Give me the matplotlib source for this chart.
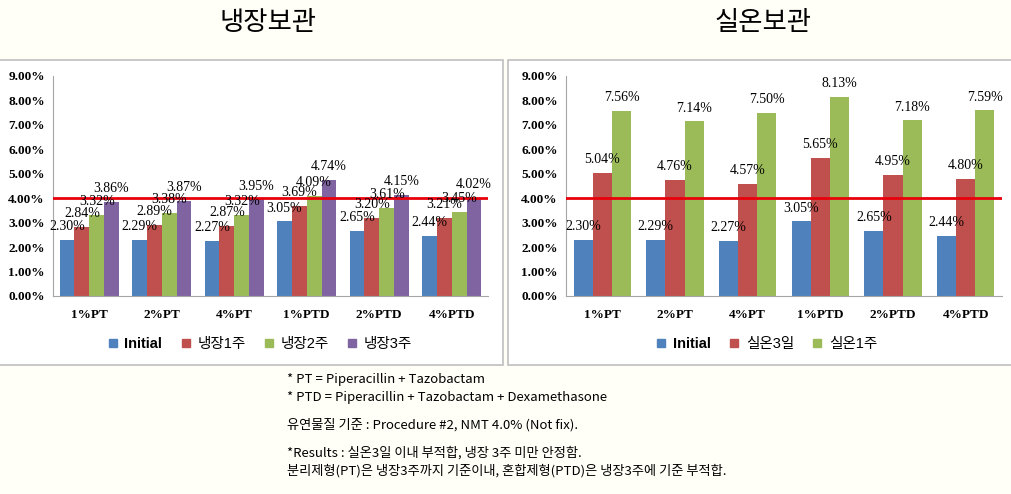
import matplotlib.pyplot as plt
import numpy as np
from matplotlib.patches import Rectangle
from matplotlib.lines import Line2D

plt.rcParams['font.family'] = ['Liberation Serif', 'Noto Sans CJK KR', 'DejaVu Sans']

categories = ['1%PT', '2%PT', '4%PT', '1%PTD', '2%PTD', '4%PTD']

# 냉장보관
cold_names = ['Initial', '냉장1주', '냉장2주', '냉장3주']
cold_initial = [2.30, 2.29, 2.27, 3.05, 2.65, 2.44]
cold_w1 = [2.84, 2.89, 2.87, 3.69, 3.20, 3.21]
cold_w2 = [3.32, 3.38, 3.32, 4.09, 3.61, 3.45]
cold_w3 = [3.86, 3.87, 3.95, 4.74, 4.15, 4.02]

# 실온보관
room_names = ['Initial', '실온3일', '실온1주']
room_initial = [2.30, 2.29, 2.27, 3.05, 2.65, 2.44]
room_d3 = [5.04, 4.76, 4.57, 5.65, 4.95, 4.80]
room_w1 = [7.56, 7.14, 7.50, 8.13, 7.18, 7.59]

limit = 4.0
colors = ['#4F81BD', '#C0504D', '#9BBB59', '#8064A2']

W, H = 1012, 494
fig = plt.figure(figsize=(W / 100, H / 100), dpi=100, facecolor='#FFFFF8')

# white chart panels
for x0, x1 in [(-2, 503), (508, 1014)]:
    fig.patches.append(Rectangle((x0 / W, 1 - 365 / H), (x1 - x0) / W, 305 / H,
                                 transform=fig.transFigure, facecolor='white',
                                 edgecolor='#BFBFBF', linewidth=1.2, zorder=-5))


def panel(rect, series, names, group_w, legend_x):
    ax = fig.add_axes(rect)
    ax.set_facecolor('white')
    n = len(series)
    x = np.arange(len(categories))
    bw = group_w / n
    for i, vals in enumerate(series):
        pos = x - group_w / 2 + bw * (i + 0.5)
        bars = ax.bar(pos, vals, bw, color=colors[i], zorder=2)
        labels = [f'{v:.2f}%' for v in vals]
        ax.bar_label(bars, labels=labels, padding=5, fontsize=10, zorder=5)
    ax.axhline(limit, color='#E8000B', linewidth=2, zorder=4)
    ax.set_ylim(0, 9)
    ax.set_xlim(-0.5, len(categories) - 0.5)
    ax.set_yticks(np.arange(0, 9.5, 1))
    ax.set_yticklabels([f'{v:.2f}%' for v in np.arange(0, 9.5, 1)],
                       fontsize=9.5, fontweight='bold')
    ax.set_xticks(x)
    ax.set_xticklabels(categories, fontsize=9.5, fontweight='bold')
    ax.tick_params(axis='x', length=0, pad=9)
    ax.tick_params(axis='y', length=0, pad=6)
    for s in ['top', 'right']:
        ax.spines[s].set_visible(False)
    for s in ['left', 'bottom']:
        ax.spines[s].set_color('#A6A6A6')
    handles = [Line2D([], [], marker='s', linestyle='', color=c, markersize=6)
               for c in colors[:n]]
    leg = fig.legend(handles, names, loc='center', ncol=n,
                     bbox_to_anchor=(legend_x / W, 1 - 344 / H), frameon=False,
                     handletextpad=-0.2, columnspacing=0.6,
                     prop={'family': ['Liberation Sans', 'Noto Sans CJK KR'], 'size': 10.5})
    leg.get_texts()[0].set_fontweight('bold')
    return ax


panel([53 / W, 1 - 296 / H, 435 / W, 220 / H],
      [cold_initial, cold_w1, cold_w2, cold_w3], cold_names, 0.82, 255)
panel([566 / W, 1 - 296 / H, 436 / W, 220 / H],
      [room_initial, room_d3, room_w1], room_names, 0.79, 762)

title_font = ['Noto Sans CJK KR', 'DejaVu Sans']
fig.text(268 / W, 1 - 22 / H, '냉장보관', ha='center', va='center', fontsize=19,
         family=title_font)
fig.text(763 / W, 1 - 22 / H, '실온보관', ha='center', va='center', fontsize=19,
         family=title_font)

notes = [
    (379, '* PT = Piperacillin + Tazobactam'),
    (397, '* PTD = Piperacillin + Tazobactam + Dexamethasone'),
    (425, '유연물질 기준 : Procedure #2, NMT 4.0% (Not fix).'),
    (453, '*Results : 실온3일 이내 부적합, 냉장 3주 미만 안정함.'),
    (471, '분리제형(PT)은 냉장3주까지 기준이내, 혼합제형(PTD)은 냉장3주에 기준 부적합.'),
]
for y, t in notes:
    fig.text(287 / W, 1 - y / H, t, ha='left', va='center', fontsize=9.5,
             family=['Noto Sans CJK KR', 'DejaVu Sans'])

fig.savefig('out.png', dpi=100, facecolor=fig.get_facecolor())
